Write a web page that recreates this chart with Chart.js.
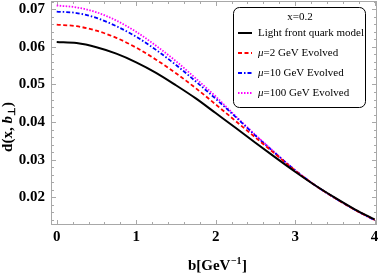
<!DOCTYPE html>
<html><head><meta charset="utf-8">
<script src="https://cdn.jsdelivr.net/npm/chart.js@4/dist/chart.umd.min.js"></script>
<style>html,body{margin:0;padding:0;background:#fff;}</style>
</head><body>
<canvas id="c" width="382" height="273"></canvas>
<script>
// ---- data ----
const bValues = [0, 0.25, 0.5, 0.75, 1.0, 1.25, 1.5, 1.75, 2.0, 2.25, 2.5, 2.75, 3.0, 3.25, 3.5, 3.75, 4.0];
const lightFront = [0.0613, 0.0610, 0.0599, 0.0582, 0.0559, 0.0531, 0.0498, 0.0463, 0.0424, 0.0385, 0.0345, 0.0306, 0.0268, 0.0232, 0.0199, 0.0168, 0.0141];
const mu2 = [0.0659, 0.0655, 0.0643, 0.0624, 0.0598, 0.0566, 0.0530, 0.0490, 0.0447, 0.0403, 0.0359, 0.0315, 0.0271, 0.0232, 0.0198, 0.0167, 0.0140];
const mu10 = [0.0694, 0.0690, 0.0677, 0.0655, 0.0627, 0.0592, 0.0552, 0.0508, 0.0462, 0.0414, 0.0364, 0.0317, 0.0272, 0.0232, 0.0198, 0.0167, 0.0139];
const mu100 = [0.0710, 0.0705, 0.0692, 0.0670, 0.0640, 0.0603, 0.0562, 0.0516, 0.0468, 0.0416, 0.0366, 0.0318, 0.0272, 0.0232, 0.0198, 0.0167, 0.0139];
const seriesLabels = ['Light front quark model', 'μ=2 GeV Evolved', 'μ=10 GeV Evolved', 'μ=100 GeV Evolved'];
const legendTitle = 'x=0.2';
const xTickValues = [0, 1, 2, 3, 4];
const yTickValues = [0.02, 0.03, 0.04, 0.05, 0.06, 0.07];
const xTitleMain = 'b[GeV';
const xTitleSup = '−1';
const xTitleEnd = ']';

const pts = arr => arr.map((v, i) => ({x: bValues[i], y: v}));
const SERIF = '"Liberation Serif", "Times New Roman", serif';
const FRAME = '#a8a8a8';

const framePlugin = {
  id: 'frame',
  beforeDatasetsDraw(chart) {
    const {ctx, chartArea: a, scales: {x, y}} = chart;
    ctx.save();
    ctx.strokeStyle = FRAME; ctx.lineWidth = 1;
    ctx.strokeRect(a.left + 0.5, a.top + 0.5, a.right - a.left - 1, a.bottom - a.top - 1);
    ctx.beginPath();
    // x ticks (major and minor), inward, top and bottom
    for (let k = 0; k <= 20; k++) {
      const v = k * 0.2;
      const px = Math.round(x.getPixelForValue(v)) + 0.5;
      const len = (k % 5 === 0) ? 5 : 3;
      ctx.moveTo(px, a.bottom); ctx.lineTo(px, a.bottom - len);
      ctx.moveTo(px, a.top); ctx.lineTo(px, a.top + len);
    }
    for (let k = 7; k <= 36; k++) {
      const v = k * 0.002;
      if (v > y.max) break;
      const py = Math.round(y.getPixelForValue(v)) + 0.5;
      const len = (k % 5 === 0) ? 5 : 3;
      ctx.moveTo(a.left, py); ctx.lineTo(a.left + len, py);
      ctx.moveTo(a.right, py); ctx.lineTo(a.right - len, py);
    }
    ctx.stroke();
    ctx.restore();
  },
  afterDatasetsDraw(chart) {
    const {ctx, chartArea: a} = chart;
    ctx.save();
    // ---- legend ----
    const bx = 233, by = 7, bw = 132, bh = 100, r = 6;
    ctx.fillStyle = '#fff';
    ctx.strokeStyle = '#000'; ctx.lineWidth = 1;
    ctx.beginPath();
    ctx.roundRect(bx + 0.5, by + 0.5, bw, bh, r);
    ctx.fill(); ctx.stroke();
    ctx.fillStyle = '#000';
    ctx.textBaseline = 'middle';
    ctx.textAlign = 'center';
    ctx.font = '11px ' + SERIF;
    ctx.fillText(legendTitle, bx + bw / 2 + 1, by + 10);
    ctx.textAlign = 'left';
    chart.data.datasets.forEach((ds, i) => {
      const yy = by + 26 + i * 20;
      ctx.save();
      ctx.strokeStyle = ds.borderColor; ctx.lineWidth = ds.borderWidth;
      ctx.setLineDash(ds.borderDash || []);
      ctx.beginPath(); ctx.moveTo(238, yy); ctx.lineTo(252, yy); ctx.stroke();
      ctx.restore();
      let tx = 258;
      let label = ds.label;
      if (label.startsWith('μ')) {
        ctx.font = 'italic 11px ' + SERIF;
        ctx.fillText('μ', tx, yy);
        tx += ctx.measureText('μ').width;
        label = label.slice(1);
      }
      ctx.font = '11px ' + SERIF;
      ctx.fillText(label, tx, yy);
    });
    // ---- x title ----
    ctx.textBaseline = 'alphabetic';
    const fMain = 'bold 15px ' + SERIF, fSup = 'bold 10px ' + SERIF;
    ctx.font = fMain; const w1 = ctx.measureText(xTitleMain).width, w3 = ctx.measureText(xTitleEnd).width;
    ctx.font = fSup; const w2 = ctx.measureText(xTitleSup).width;
    let sx = (a.left + a.right) / 2 + 3 - (w1 + w2 + w3) / 2;
    const base = 270;
    ctx.font = fMain; ctx.fillText(xTitleMain, sx, base); sx += w1;
    ctx.font = fSup; ctx.fillText(xTitleSup, sx + 0.5, base - 6); sx += w2 + 1;
    ctx.font = fMain; ctx.fillText(xTitleEnd, sx, base);
    // ---- y title ----
    ctx.translate(12, 127);
    ctx.rotate(-Math.PI / 2);
    const parts = [
      ['d(x, ', 'bold 15px ' + SERIF, 0],
      ['b', 'bold italic 15px ' + SERIF, 0],
      ['⊥', 'bold 10px ' + SERIF, 3],
      [')', 'bold 15px ' + SERIF, 0]
    ];
    let tot = 0;
    parts.forEach(p => { ctx.font = p[1]; p.push(ctx.measureText(p[0]).width); tot += p[3]; });
    let cx = -tot / 2;
    parts.forEach(p => { ctx.font = p[1]; ctx.fillText(p[0], cx, p[2]); cx += p[3]; });
    ctx.restore();
  }
};

new Chart(document.getElementById('c'), {
  type: 'line',
  data: {
    datasets: [
      {label: seriesLabels[0], data: pts(lightFront), borderColor: '#000000', borderWidth: 2, borderDash: []},
      {label: seriesLabels[1], data: pts(mu2), borderColor: '#ff0000', borderWidth: 1.8, borderDash: [4, 2.5]},
      {label: seriesLabels[2], data: pts(mu10), borderColor: '#0000ff', borderWidth: 1.8, borderDash: [4, 2, 1.5, 2]},
      {label: seriesLabels[3], data: pts(mu100), borderColor: '#ff00ff', borderWidth: 1.8, borderDash: [1.5, 1.5]}
    ]
  },
  options: {
    responsive: false, animation: false, devicePixelRatio: 1,
    layout: {padding: {top: 1, right: 5, left: 0, bottom: 0}},
    plugins: {legend: {display: false}, tooltip: {enabled: false}},
    elements: {point: {radius: 0}, line: {tension: 0.4, cubicInterpolationMode: 'monotone', fill: false}},
    scales: {
      x: {
        type: 'linear', min: -0.072, max: 4.03,
        afterBuildTicks: s => { s.ticks = xTickValues.map(v => ({value: v})); },
        afterFit: s => { s.height = 48; s.paddingLeft = 0; s.paddingRight = 0; },
        grid: {display: false, drawTicks: false}, border: {display: false},
        ticks: {font: {family: SERIF, weight: 'bold', size: 15}, color: '#000', padding: 3, maxRotation: 0, autoSkip: false, callback: v => String(v)}
      },
      y: {
        type: 'linear', min: 0.01263, max: 0.0722,
        afterBuildTicks: s => { s.ticks = yTickValues.map(v => ({value: v})); },
        afterFit: s => { s.width = 51; s.paddingTop = 0; s.paddingBottom = 0; },
        grid: {display: false, drawTicks: false}, border: {display: false},
        ticks: {font: {family: SERIF, weight: 'bold', size: 15}, color: '#000', padding: 6, autoSkip: false, callback: v => v.toFixed(2)}
      }
    }
  },
  plugins: [framePlugin]
});
</script>
</body></html>
